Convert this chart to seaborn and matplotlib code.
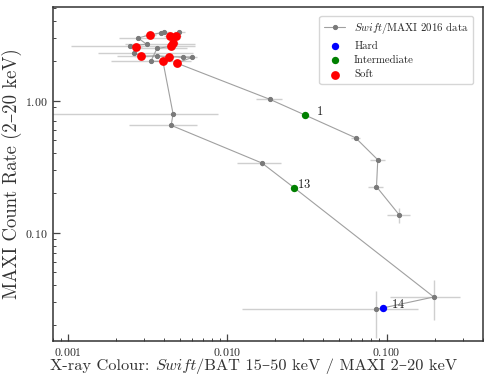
import numpy as np
import pandas as pd
import matplotlib
matplotlib.use("Agg")
import matplotlib.pyplot as plt
from matplotlib.offsetbox import TextArea, HPacker, AnchoredOffsetbox
import seaborn as sns

# ---- data (track in time order) ----
colour = [0.1197, 0.0863, 0.0879, 0.0637, 0.0307, 0.01845,
          0.00479, 0.00602, 0.00522, 0.00430, 0.00361, 0.00286, 0.00258, 0.00265,
          0.00243, 0.00310, 0.00274, 0.00327, 0.00381, 0.00402, 0.00434, 0.00473,
          0.00497, 0.00455, 0.00440, 0.00361, 0.00330, 0.00393, 0.00455, 0.00443,
          0.01648, 0.02636, 0.1977, 0.0945, 0.0851]
rate = [0.1369, 0.2231, 0.357, 0.524, 0.779, 1.025,
        1.930, 2.13, 2.14, 2.154, 2.19, 2.17, 2.31, 2.55,
        2.60, 2.68, 2.99, 3.15, 3.27, 3.33, 3.09, 3.11,
        3.30, 2.74, 2.58, 2.49, 1.99, 1.99, 0.797, 0.651,
        0.337, 0.218, 0.0326, 0.0269, 0.0263]
colour_lo = [0.0998, 0.0764, 0.0783, 0.0601, 0.0300, 0.0150,
             0.00455, 0.00565, 0.00490, 0.00400, 0.00201, 0.00260, 0.00154, 0.00240,
             0.00104, 0.00226, 0.00207, 0.00300, 0.00350, 0.00370, 0.00400, 0.00440,
             0.00460, 0.00420, 0.00405, 0.00250, 0.00185, 0.00365, 0.00070, 0.00240,
             0.01140, 0.0258, 0.1045, 0.0930, 0.01225]
colour_hi = [0.141, 0.0942, 0.0973, 0.0678, 0.0314, 0.0220,
             0.00503, 0.00640, 0.00555, 0.00460, 0.00581, 0.00315, 0.00608, 0.00290,
             0.00624, 0.00624, 0.00501, 0.00355, 0.00412, 0.00435, 0.00470, 0.00510,
             0.00540, 0.00490, 0.00475, 0.00560, 0.00594, 0.00420, 0.00869, 0.00641,
             0.0216, 0.0269, 0.2876, 0.0960, 0.1574]
rate_lo = [0.119, 0.216, 0.348, 0.512, 0.770, 1.010,
           1.90, 2.10, 2.11, 2.12, 2.16, 2.14, 2.28, 2.52,
           2.57, 2.65, 2.95, 3.11, 3.23, 3.29, 3.05, 3.07,
           3.26, 2.70, 2.55, 2.46, 1.96, 1.96, 0.785, 0.641,
           0.322, 0.214, 0.0218, 0.0265, 0.0158]
rate_hi = [0.153, 0.230, 0.366, 0.536, 0.788, 1.040,
           1.96, 2.16, 2.17, 2.19, 2.22, 2.20, 2.34, 2.58,
           2.63, 2.71, 3.03, 3.19, 3.31, 3.37, 3.13, 3.15,
           3.34, 2.78, 2.61, 2.52, 2.02, 2.02, 0.809, 0.661,
           0.352, 0.222, 0.0438, 0.0273, 0.0362]

hard_x = [0.0945]
hard_y = [0.0269]
inter_x = [0.0307, 0.02636]
inter_y = [0.779, 0.218]
soft_x = [0.00479, 0.00430, 0.00286, 0.00265, 0.00327, 0.00434, 0.00473, 0.00455, 0.00440, 0.00393]
soft_y = [1.930, 2.154, 2.17, 2.55, 3.15, 3.09, 3.11, 2.74, 2.58, 1.99]

labels = ["1", "13", "14"]
label_x = [0.0307, 0.02636, 0.0945]
label_y = [0.779, 0.218, 0.0269]

xticks = [0.001, 0.010, 0.100]
xticklabels = ["0.001", "0.010", "0.100"]
yticks = [0.10, 1.00]
yticklabels = ["0.10", "1.00"]

# ---- style ----
sns.set_style("white")
plt.rcParams["mathtext.fontset"] = "cm"
plt.rcParams["font.family"] = ["cmr10", "DejaVu Serif"]
plt.rcParams["axes.formatter.use_mathtext"] = True

TXT = "#333333"
RM = ["cmr10", "DejaVu Serif"]

fig = plt.figure(figsize=(4.91, 3.82), dpi=100)
ax = fig.add_axes([0.1073, 0.1081, 0.8758, 0.8736])

df = pd.DataFrame({"colour": colour, "rate": rate,
                   "xlo": colour_lo, "xhi": colour_hi,
                   "ylo": rate_lo, "yhi": rate_hi})

xerr = np.array([df["colour"] - df["xlo"], df["xhi"] - df["colour"]])
yerr = np.array([df["rate"] - df["ylo"], df["yhi"] - df["rate"]])
ax.errorbar(df["colour"], df["rate"], xerr=xerr, yerr=yerr, fmt="none",
            ecolor="#cfcfcf", elinewidth=1.0, capsize=0, zorder=1)

sns.lineplot(data=df, x="colour", y="rate", sort=False, estimator=None, ax=ax,
             color="#a0a0a0", linewidth=0.8, marker="o", markersize=3,
             markerfacecolor="#7a7a7a", markeredgecolor="#7a7a7a",
             label=r"$\mathit{Swift}$/MAXI 2016 data", zorder=2)

sns.scatterplot(x=hard_x, y=hard_y, color="#0000ff", s=28, linewidth=0,
                ax=ax, label="Hard", zorder=3)
sns.scatterplot(x=inter_x, y=inter_y, color="#008000", s=28, linewidth=0,
                ax=ax, label="Intermediate", zorder=3)
sns.scatterplot(x=soft_x, y=soft_y, color="#ff0000", s=40, linewidth=0,
                ax=ax, label="Soft", zorder=3)

offsets = [(8, 2.2), (2.0, 2.2), (5.8, 2.2)]
for t, xx, yy, off in zip(labels, label_x, label_y, offsets):
    ax.annotate(r"$\mathbf{%s}$" % t, (xx, yy), xytext=off, textcoords="offset points",
                fontsize=9, ha="left", va="center", color="#222222", zorder=4)

ax.set_xscale("log")
ax.set_yscale("log")
ax.set_xlim(0.000798, 0.401)
ax.set_ylim(0.0152, 5.13)

ax.set_xticks(xticks)
ax.set_xticklabels([r"$\mathbf{%s}$" % t for t in xticklabels], fontsize=8.5)
ax.set_yticks(yticks)
ax.set_yticklabels([r"$\mathbf{%s}$" % t for t in yticklabels], fontsize=8.5)
ax.tick_params(which="both", direction="in", left=True, bottom=True, top=False, right=False,
               color="#444444")
ax.tick_params(which="major", length=5, width=0.9)
ax.tick_params(which="minor", length=2.5, width=0.7)
for s in ax.spines.values():
    s.set_color("#333333")
    s.set_linewidth(1.1)

# x label composed of upright / italic pieces
ax.set_xlabel("")
xl_size = 11.8
parts = [
    TextArea("X-ray Colour: ", textprops=dict(family=RM, size=xl_size, color=TXT)),
    TextArea("Swift", textprops=dict(family=["cmmi10", "DejaVu Serif"], size=xl_size, color=TXT)),
    TextArea("/BAT 15–50 keV / MAXI 2–20 keV", textprops=dict(family=RM, size=xl_size, color=TXT)),
]
hp = HPacker(children=parts, align="baseline", pad=0, sep=0)
ab = AnchoredOffsetbox(loc="upper center", child=hp, pad=0, borderpad=0, frameon=False,
                       bbox_to_anchor=(0.467, -0.052), bbox_transform=ax.transAxes)
ax.add_artist(ab)

ax.set_ylabel("MAXI Count Rate (2–20 keV)", fontsize=13.5, color=TXT, labelpad=2)

leg = ax.legend(loc="upper right", fontsize=7.8, frameon=True, borderpad=0.4,
                handlelength=2.0, labelspacing=0.45, bbox_to_anchor=(0.99, 0.99))
leg.get_frame().set_edgecolor("#cccccc")

fig.savefig("out.png", dpi=100)
